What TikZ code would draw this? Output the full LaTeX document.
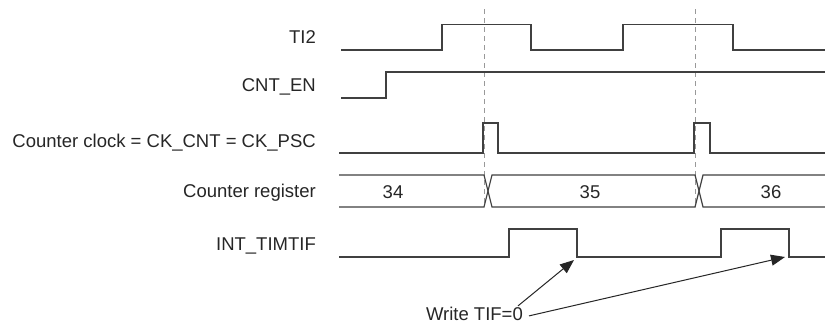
\documentclass[tikz,border=0pt]{standalone}
\usepackage{fontspec}
\setmainfont{Liberation Sans}
\usetikzlibrary{arrows.meta}
\begin{document}
\begin{tikzpicture}[x=1pt,y=-1pt,
  wave/.style={line width=1.2pt, draw=black!75, line join=miter},
  guide/.style={line width=0.9pt, draw=black!40, dash pattern=on 5pt off 4pt},
  lbl/.style={font=\fontsize{18.5}{22}\selectfont, text=black!85, inner sep=0pt},
  pointer/.style={line width=1pt, draw=black!85, -{Triangle[length=14pt,width=11pt]}}]
\fill[white] (0,0) rectangle (825,324);
\useasboundingbox (0,0) rectangle (825,324);
% labels
\node[lbl, anchor=base east] (ti2) at (316,43.3) {TI2};
\node[lbl, anchor=base east] (cnten) at (316,91.7) {CNT\_EN};
\node[lbl, anchor=base east] (ck) at (316,147.7) {Counter clock = CK\_CNT = CK\_PSC};
\node[lbl, anchor=base east] (reg) at (316,197.3) {Counter register};
\node[lbl, anchor=base east] (int) at (316,250) {INT\_TIMTIF};
% guides
\draw[guide] (484,9) -- (484,207);
\draw[guide] (695,9) -- (695,207);
% TI2
\draw[wave] (341,50) -- (442,50) -- (442,24.5) -- (531,24.5) -- (531,50) -- (623,50) -- (623,24.5) -- (733,24.5) -- (733,50) -- (825,50);
% CNT_EN
\draw[wave] (341,98) -- (386,98) -- (386,72) -- (825,72);
% clock
\draw[wave] (339,153) -- (483,153) -- (483,123) -- (498,123) -- (498,153) -- (694,153) -- (694,123) -- (710,123) -- (710,153) -- (825,153);
% register
\draw[wave] (339,175) -- (484,175) -- (492,207) -- (695,207) -- (703,175) -- (825,175);
\draw[wave] (339,207) -- (484,207) -- (492,175) -- (695,175) -- (703,207) -- (825,207);
\node[lbl, anchor=base] (v34) at (393,198.7) {34};
\node[lbl, anchor=base] (v35) at (590,198.7) {35};
\node[lbl, anchor=base] (v36) at (771,198.7) {36};
% INT_TIMTIF
\draw[wave] (339,257) -- (509,257) -- (509,229) -- (577,229) -- (577,257) -- (721,257) -- (721,229) -- (789,229) -- (789,257) -- (825,257);
% write TIF
\node[lbl, anchor=base east] (w) at (523,320.5) {Write TIF=0};
\coordinate (a1) at (574,260);
\coordinate (a2) at (785,257);
\draw[pointer] ([xshift=-5pt,yshift=1pt]w.north east) -- (a1);
\draw[pointer] ([xshift=6pt,yshift=-2pt]w.east) -- (a2);
\end{tikzpicture}
\end{document}
